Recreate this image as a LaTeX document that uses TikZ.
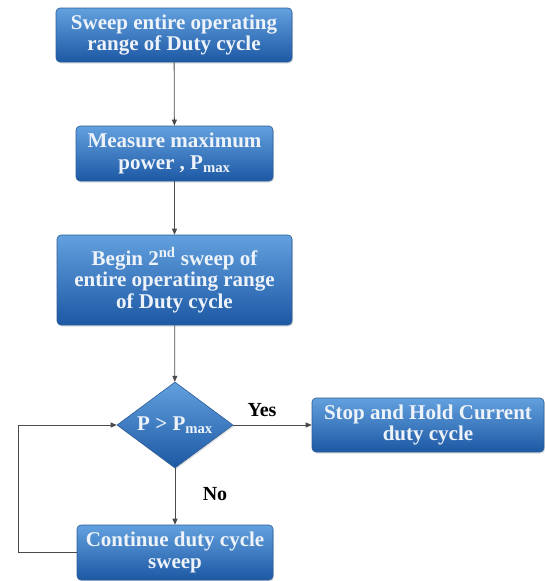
\documentclass[tikz,border=0pt]{standalone}
\usepackage{fontspec}
\setmainfont{Liberation Serif}
\usepackage{xcolor}
\usepackage{tikz}
\definecolor{fcTop}{HTML}{62A0DE}
\definecolor{fcBot}{HTML}{1D58A4}
\definecolor{fcEdge}{HTML}{2C5C96}
\definecolor{fcText}{HTML}{EEF3FA}
\definecolor{fcLine}{HTML}{4A4A4A}
\usetikzlibrary{arrows.meta,shapes.geometric,shadows}

\tikzset{
  flowbox/.style={draw=fcEdge, line width=0.6pt, rounded corners=4pt,
    top color=fcTop, bottom color=fcBot, text=fcText, align=center,
    font=\fontsize{21}{21.5}\selectfont\bfseries, inner sep=1pt,
    drop shadow={shadow xshift=1pt, shadow yshift=-1.5pt, opacity=0.25}},
  flowdec/.style={diamond, aspect=1.35, draw=fcEdge, line width=0.6pt,
    top color=fcTop, bottom color=fcBot, text=fcText, align=center,
    font=\fontsize{21}{21.5}\selectfont\bfseries, inner sep=0pt,
    minimum width=116pt, minimum height=86pt,
    drop shadow={shadow xshift=1pt, shadow yshift=-1.5pt, opacity=0.25}},
  flowarrow/.style={draw=fcLine, line width=0.8pt, -{Triangle[length=6pt,width=5pt]}},
  flowlabel/.style={font=\fontsize{20}{20}\selectfont\bfseries, text=black}
}

\begin{document}
\begin{tikzpicture}[x=1pt,y=-1pt]
    \useasboundingbox (0,0) rectangle (545,581);

    \node[flowbox, minimum width=236pt, minimum height=54pt] (sweep) at (174,35)
      {Sweep entire operating\\range of Duty cycle};
    \node[flowbox, minimum width=197pt, minimum height=55pt] (measure) at (174.5,153.5)
      {Measure maximum\\power , P\textsubscript{max}};
    \node[flowbox, minimum width=235pt, minimum height=90pt] (begin) at (174.5,280)
      {Begin 2\textsuperscript{nd} sweep of\\entire operating range\\of Duty cycle};
    \node[flowdec] (test) at (175,425) {P > P\textsubscript{max}};
    \node[flowbox, minimum width=232pt, minimum height=54pt] (stop) at (428,425)
      {Stop and Hold Current\\duty cycle};
    \node[flowbox, minimum width=196pt, minimum height=55pt] (cont) at (175,552.5)
      {Continue duty cycle\\sweep};
    \coordinate (loop) at (18,552.5);

    \draw[flowarrow] (sweep) -- (measure);
    \draw[flowarrow] (measure) -- (begin);
    \draw[flowarrow] (begin) -- (test);
    \draw[flowarrow] (test) -- (stop);
    \draw[flowarrow] (test) -- (cont);
    \draw[flowarrow] (cont.west) -- (loop) |- (test.west);

    \node[flowlabel] (yes) at (262,410) {Yes};
    \node[flowlabel] (no) at (215,494) {No};
  \end{tikzpicture}
\end{document}
